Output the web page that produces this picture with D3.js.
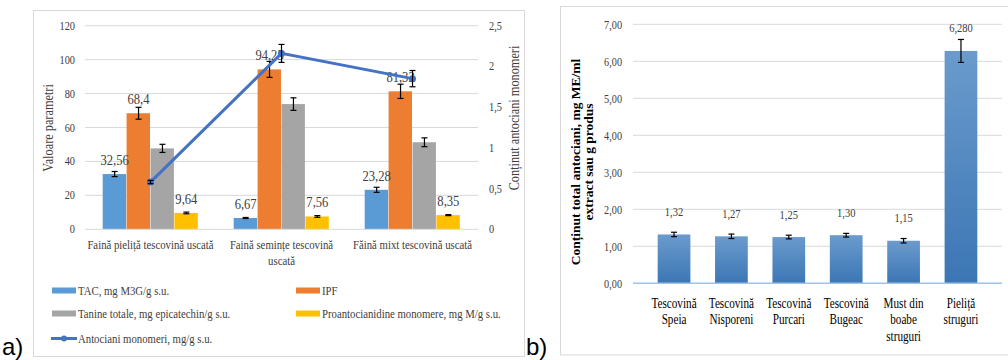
<!DOCTYPE html>
<html>
<head>
<meta charset="utf-8">
<script src="https://cdn.jsdelivr.net/npm/d3@7/dist/d3.min.js"></script>
</head>
<body style="margin:0;background:#fff">
<svg id="chart" width="1008" height="360" style="display:block;font-family:'Liberation Serif'"></svg>
<script>
// panel a data
var catsA = [["Faină pieliță tescovină uscată"], ["Faină semințe tescovină", "uscată"], ["Făină mixt tescovină uscată"]];
var seriesNames = ["TAC, mg M3G/g s.u.", "IPF", "Tanine totale, mg epicatechin/g s.u.", "Proantocianidine monomere, mg M/g s.u."];
var seriesColors = ["#5b9bd5", "#ed7d31", "#a5a5a5", "#ffc000"];
var tac = [32.56, 6.67, 23.28];
var tacErr = [1.5, 0.3, 1.5];
var ipf = [68.4, 94.25, 81.32];
var ipfErr = [3.5, 4.7, 4.2];
var tanine = [47.7, 73.8, 51.3];
var tanineErr = [2.4, 3.7, 2.6];
var proanto = [9.64, 7.56, 8.35];
var proantoErr = [0.5, 0.5, 0.3];
var antociani = [0.58, 2.16, 1.85];
var antocianiErr = [0.02, 0.11, 0.1];
var lineName = "Antociani monomeri, mg/g s.u.";
var leftTicks = [0, 20, 40, 60, 80, 100, 120];
var rightTicks = [0, 0.5, 1, 1.5, 2, 2.5];

// panel b data
var catsB = [["Tescovină", "Speia"], ["Tescovină", "Nisporeni"], ["Tescovină", "Purcari"], ["Tescovină", "Bugeac"], ["Must din", "boabe", "struguri"], ["Pieliță", "struguri"]];
var valuesB = [1.32, 1.27, 1.25, 1.30, 1.15, 6.28];
var errB = [0.06, 0.06, 0.05, 0.05, 0.06, 0.31];
var labelsB = ["1,32", "1,27", "1,25", "1,30", "1,15", "6,280"];
var ticksB = [0, 1, 2, 3, 4, 5, 6, 7];

var SERIF = "'Liberation Serif', 'Times New Roman', serif";
var svg = d3.select("#chart");
var comma = function (v) { return String(v).replace(".", ","); };

// the source uses a narrow Times face, so every text is squeezed sideways
function txt(g, size, x, y, o) {
    o = o || {};
    var sx = o.sx || 0.84;
    var tr = "translate(" + x + "," + y + ")" + (o.rot ? " rotate(-90)" : "") + " scale(" + sx + ",1)";
    return g.append("text").attr("transform", tr)
        .attr("text-anchor", o.anchor || "start")
        .style("font-family", SERIF).style("font-size", size + "px")
        .style("font-weight", o.bold ? "bold" : "normal")
        .style("fill", o.color || "#404040");
}

function lines(t, arr, step) {
    arr.forEach(function (l, k) { t.append("tspan").attr("x", 0).attr("dy", k ? step : 0).text(l); });
}

function errorBar(g, cx, yTop, yBot, half) {
    g.append("line").attr("x1", cx).attr("x2", cx).attr("y1", yTop).attr("y2", yBot).attr("stroke", "#000").attr("stroke-width", 1.2);
    g.append("line").attr("x1", cx - half).attr("x2", cx + half).attr("y1", yTop).attr("y2", yTop).attr("stroke", "#000").attr("stroke-width", 1.2);
    g.append("line").attr("x1", cx - half).attr("x2", cx + half).attr("y1", yBot).attr("y2", yBot).attr("stroke", "#000").attr("stroke-width", 1.2);
}

function panelA() {
    var left = 85, right = 478, top = 25.7, bottom = 229.3;
    svg.append("rect").attr("x", 33.5).attr("y", 10.5).attr("width", 491).attr("height", 346)
        .attr("fill", "none").attr("stroke", "#d9d9d9");

    var x = d3.scaleBand().domain(d3.range(catsA.length)).range([left, right]).paddingInner(0.27).paddingOuter(0.135);
    var xs = d3.scaleBand().domain(d3.range(4)).range([0, x.bandwidth()]);
    var y = d3.scaleLinear().domain([0, 120]).range([bottom, top]);
    var y2 = d3.scaleLinear().domain([0, 2.5]).range([bottom, top]);

    var g = svg.append("g");
    leftTicks.slice(1).forEach(function (d) {
        g.append("line").attr("x1", left).attr("x2", right).attr("y1", y(d)).attr("y2", y(d)).attr("stroke", "#d9d9d9");
    });

    leftTicks.forEach(function (d) {
        txt(g, 12.3, 75, y(d) + 4, {anchor: "end"}).text(d);
    });
    rightTicks.forEach(function (d) {
        txt(g, 12.3, 489, y2(d) + 4).text(comma(d));
    });

    var all = [tac, ipf, tanine, proanto];
    var errs = [tacErr, ipfErr, tanineErr, proantoErr];
    all.forEach(function (vals, s) {
        vals.forEach(function (v, i) {
            g.append("rect").attr("x", x(i) + xs(s)).attr("y", y(v)).attr("width", xs.bandwidth() - 0.5)
                .attr("height", y(0) - y(v)).attr("fill", seriesColors[s]);
        });
    });
    g.append("line").attr("x1", left).attr("x2", right).attr("y1", y(0)).attr("y2", y(0)).attr("stroke", "#d9d9d9");
    all.forEach(function (vals, s) {
        vals.forEach(function (v, i) {
            var cx = x(i) + xs(s) + xs.bandwidth() / 2;
            errorBar(g, cx, y(v + errs[s][i]), y(v - errs[s][i]), 3);
            if (s !== 2) {
                txt(g, 14.3, cx, y(v) - 9, {anchor: "middle", sx: 0.88}).text(comma(v));
            }
        });
    });

    var line = d3.line().x(function (d, i) { return x(i) + x.bandwidth() / 2; }).y(function (d) { return y2(d); });
    g.append("path").datum(antociani).attr("d", line).attr("fill", "none").attr("stroke", "#4472c4").attr("stroke-width", 3);
    antociani.forEach(function (v, i) {
        var cx = x(i) + x.bandwidth() / 2;
        g.append("circle").attr("cx", cx).attr("cy", y2(v)).attr("r", 3.5).attr("fill", "#4472c4");
        errorBar(g, cx, y2(v + antocianiErr[i]), y2(v - antocianiErr[i]), 3);
    });

    catsA.forEach(function (arr, i) {
        lines(txt(g, 12.8, x(i) + x.bandwidth() / 2, 249, {anchor: "middle"}), arr, 16.5);
    });

    txt(g, 14.3, 53, 128, {anchor: "middle", rot: true, sx: 0.86}).text("Valoare parametri");
    txt(g, 14.3, 519, 118, {anchor: "middle", rot: true, sx: 0.86}).text("Conținut antociani monomeri");

    // legend
    var legPos = [[52, 290.5], [296, 290.5], [52, 313.5], [296, 313.5]];
    seriesNames.forEach(function (n, s) {
        var p = legPos[s];
        g.append("rect").attr("x", p[0]).attr("y", p[1] - 3).attr("width", 24).attr("height", 6).attr("fill", seriesColors[s]);
        txt(g, 12.8, p[0] + 26, p[1] + 4.5).text(n);
    });
    g.append("line").attr("x1", 51).attr("x2", 77).attr("y1", 338.5).attr("y2", 338.5).attr("stroke", "#4472c4").attr("stroke-width", 3);
    g.append("circle").attr("cx", 64).attr("cy", 338.5).attr("r", 3).attr("fill", "#4472c4");
    txt(g, 12.8, 78, 343).text(lineName);

    svg.append("text").style("font-family", "'Liberation Sans', Arial, sans-serif").style("font-size", "24px")
        .style("fill", "#000").attr("x", 2).attr("y", 355).text("a)");
}

function panelB() {
    var left = 633, right = 1002, top = 24.3, bottom = 283.3;
    svg.append("rect").attr("x", 560.5).attr("y", 6.5).attr("width", 460).attr("height", 348.5)
        .attr("fill", "none").attr("stroke", "#d9d9d9");

    var grad = svg.append("defs").append("linearGradient").attr("id", "barGrad")
        .attr("x1", 0).attr("x2", 0).attr("y1", 0).attr("y2", 1);
    grad.append("stop").attr("offset", "0%").attr("stop-color", "#6b9bcd");
    grad.append("stop").attr("offset", "100%").attr("stop-color", "#3b76b4");

    var x = d3.scaleBand().domain(d3.range(catsB.length)).range([left, right]).padding(0.43);
    var y = d3.scaleLinear().domain([0, 7]).range([bottom, top]);
    var g = svg.append("g");

    ticksB.slice(1).forEach(function (d) {
        g.append("line").attr("x1", left).attr("x2", right).attr("y1", y(d)).attr("y2", y(d)).attr("stroke", "#d9d9d9");
    });
    ticksB.forEach(function (d) {
        txt(g, 12.8, 622, y(d) + 4.5, {anchor: "end", sx: 0.8}).text(d.toFixed(2).replace(".", ","));
    });

    valuesB.forEach(function (v, i) {
        g.append("rect").attr("x", x(i)).attr("y", y(v)).attr("width", x.bandwidth()).attr("height", y(0) - y(v))
            .attr("fill", "url(#barGrad)");
    });
    g.append("line").attr("x1", left).attr("x2", right).attr("y1", y(0)).attr("y2", y(0)).attr("stroke", "#9dc3e6").attr("stroke-width", 1.5);
    valuesB.forEach(function (v, i) {
        var cx = x(i) + x.bandwidth() / 2;
        errorBar(g, cx, y(v + errB[i]), y(v - errB[i]), 3);
        txt(g, 13.5, cx, y(v) - 18.5, {anchor: "middle", sx: 0.78}).text(labelsB[i]);
    });

    catsB.forEach(function (arr, i) {
        lines(txt(g, 13.8, x(i) + x.bandwidth() / 2, 308, {anchor: "middle", color: "#000", sx: 0.81}), arr, 16.5);
    });

    var tt = txt(g, 13.5, 580, 162, {anchor: "middle", rot: true, bold: true, color: "#000", sx: 1});
    lines(tt, ["Conținut total antociani, mg ME/ml", "extract sau g produs"], 12.5);

    svg.append("text").style("font-family", "'Liberation Sans', Arial, sans-serif").style("font-size", "24px")
        .style("fill", "#000").attr("x", 526).attr("y", 355).text("b)");
}

panelA();
panelB();
</script>
</body>
</html>
